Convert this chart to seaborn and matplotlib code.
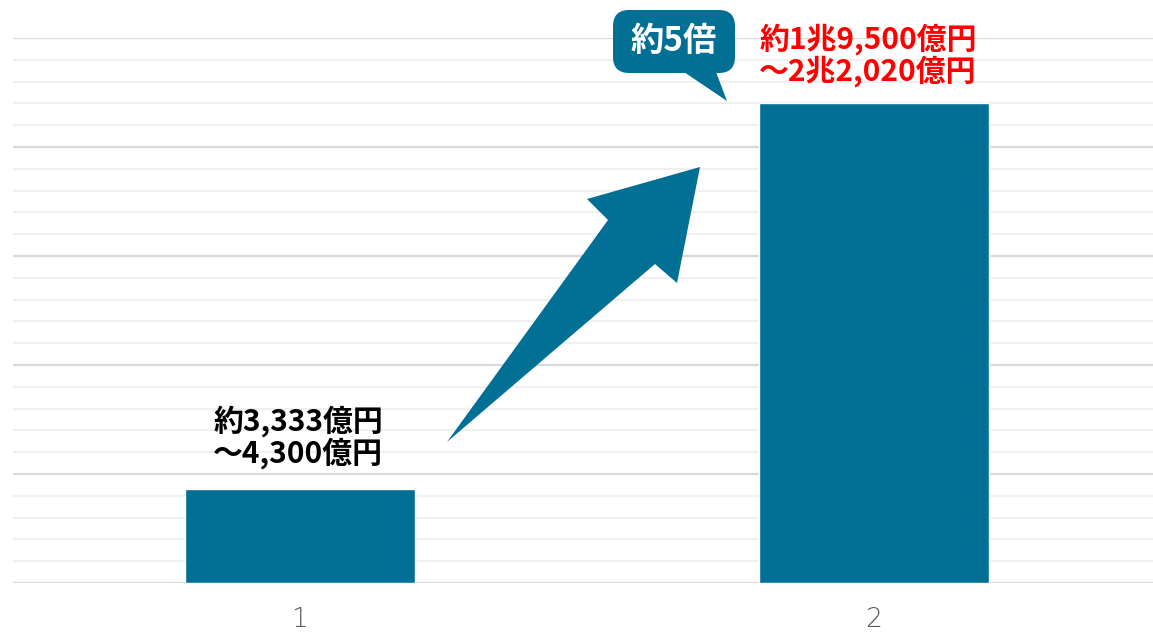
import matplotlib
matplotlib.use("Agg")
import matplotlib.pyplot as plt
import seaborn as sns
import pandas as pd
from matplotlib.patches import Polygon, FancyBboxPatch
from matplotlib.ticker import MultipleLocator

# ---- data ----
categories = ["1", "2"]
values = [4300, 22020]  # 億円 (upper bound of each estimate)
labels = ["約3,333億円\n～4,300億円", "約1兆9,500億円\n～2兆2,020億円"]
label_colors = ["#000000", "#FF0000"]
callout_text = "約5倍"

sns.set_theme(style="white")
plt.rcParams["font.family"] = ["Noto Sans CJK JP", "DejaVu Sans"]

W, H = 1153, 634
fig = plt.figure(figsize=(W / 100, H / 100), dpi=100)
ax_left, ax_right, ax_top, ax_bot = 13, 1153, 38, 583
ax = fig.add_axes([ax_left / W, 1 - ax_bot / H, (ax_right - ax_left) / W, (ax_bot - ax_top) / H])

bar_color = "#026F95"
df = pd.DataFrame({"cat": categories, "val": values})
sns.barplot(data=df, x="cat", y="val", color=bar_color, width=0.4, ax=ax,
            saturation=1, zorder=3)

ax.set_xlim(-0.5, 1.5 - 8 / 574)
ax.set_ylim(0, 25000)
ax.yaxis.set_major_locator(MultipleLocator(5000))
ax.yaxis.set_minor_locator(MultipleLocator(1000))
ax.grid(axis="y", which="major", color="#D9D9D9", linewidth=1.6, zorder=0)
ax.grid(axis="y", which="minor", color="#F0F0F0", linewidth=1.6, zorder=0)
ax.grid(axis="x", visible=False)
for s in ax.spines.values():
    s.set_visible(False)
ax.set_xlabel("")
ax.set_ylabel("")
ax.tick_params(axis="y", which="both", left=False, labelleft=False)
ax.tick_params(axis="x", length=0, pad=17, labelsize=19, labelcolor="#595959")
for t in ax.get_xticklabels():
    t.set_fontfamily(["DejaVu Sans"])
    t.set_fontweight("light")

# value labels
ax.text(0 - 2 / 574, 4300 + 950, labels[0], ha="center", va="bottom", fontsize=21.5,
        fontweight="bold", color=label_colors[0], linespacing=1.0, zorder=5)
ax.text(1 - 6 / 574, 22020 + 750, labels[1], ha="center", va="bottom", fontsize=21.5,
        fontweight="bold", color=label_colors[1], linespacing=1.0, zorder=5,
        clip_on=False)

# helper: figure-pixel (from top) transform
def fp(x, y):
    return (x / W, 1 - y / H)

# big arrow
arrow_pts = [(447, 442), (608, 220), (587, 199), (700, 167), (677, 283), (655, 264)]
fig.patches.append(Polygon([fp(*p) for p in arrow_pts], closed=True,
                           transform=fig.transFigure, facecolor=bar_color,
                           edgecolor="none", zorder=4))

# callout box
bx0, by0, bx1, by1 = 613, 10, 735, 73
fig.patches.append(FancyBboxPatch((bx0 / W, 1 - by1 / H),
                                  (bx1 - bx0) / W, (by1 - by0) / H,
                                  boxstyle="round,pad=0,rounding_size=0.014",
                                  transform=fig.transFigure, facecolor=bar_color,
                                  edgecolor="none", zorder=4, mutation_aspect=W / H))
fig.patches.append(Polygon([fp(684, 72), fp(716, 72), fp(727, 101)], closed=True,
                           transform=fig.transFigure, facecolor=bar_color,
                           edgecolor="none", zorder=4))
fig.text((bx0 + bx1) / 2 / W, 1 - (by0 + by1) / 2 / H, callout_text, ha="center",
         va="center", fontsize=24, fontweight="bold", color="white", zorder=6)

fig.savefig("out.png", dpi=100)
